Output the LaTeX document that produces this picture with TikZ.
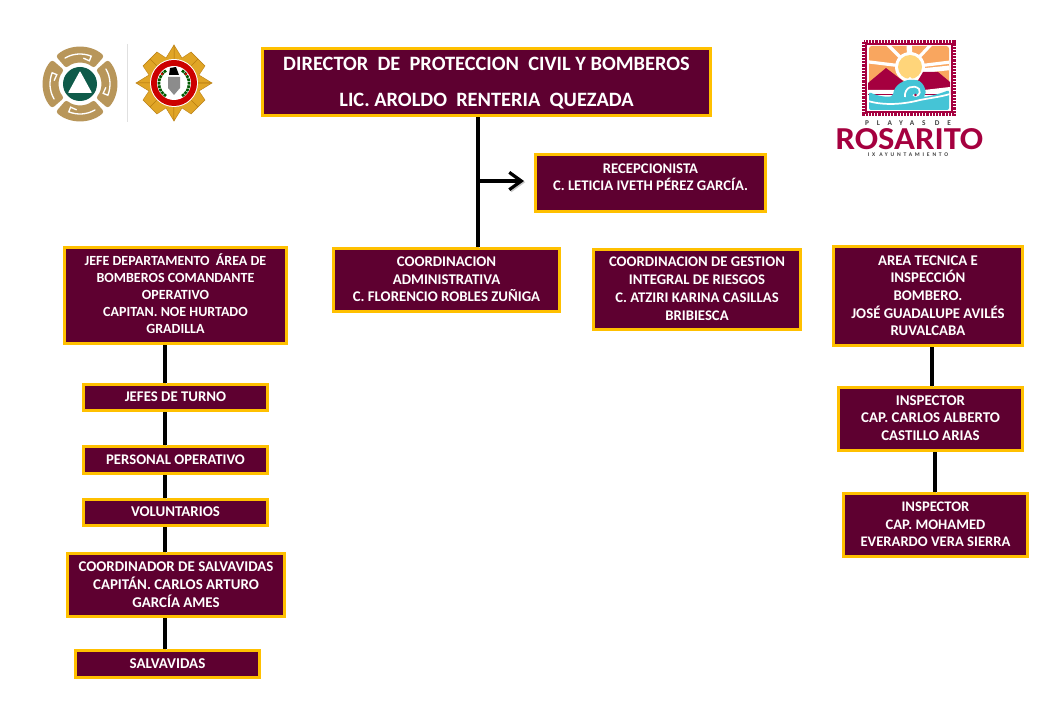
\documentclass[tikz,border=0pt]{standalone}
\usepackage{fontspec}
\usetikzlibrary{arrows.meta}
\setmainfont{Carlito}
\definecolor{wine}{HTML}{5E0030}
\definecolor{gold}{HTML}{FFC000}
\definecolor{tan1}{HTML}{B8965A}
\definecolor{green1}{HTML}{0F5B4A}
\definecolor{badge}{HTML}{E0A526}
\definecolor{badged}{HTML}{B87D12}
\definecolor{ros}{HTML}{A5003F}
\definecolor{sky}{HTML}{F9A65F}
\definecolor{sun}{HTML}{FFD57A}
\definecolor{sea}{HTML}{45C4D6}
\tikzset{x=0.75pt,y=-0.75pt,
 orgbox/.style={draw=gold,fill=wine,line width=2.4pt,text=white,inner sep=0pt,font=\bfseries},
 link/.style={line width=3pt,black,preaction={draw=black!22,transform canvas={xshift=.9pt,yshift=-.9pt}}},
 ringseg/.style={fill=tan1,draw=none},
 swirl/.style={draw=white,line width=1pt,line cap=round},
 ray/.style={draw=white,line width=2.4pt},
 logotext/.style={font=\bfseries,inner sep=0pt,anchor=center}}
% name, x1,y1,x2,y2, size(px), leading(px), raise(px), text
\newcommand{\orgb}[9]{%
 \pgfmathsetmacro{\cxx}{(#2+#4)/2}\pgfmathsetmacro{\cyy}{(#3+#5)/2}%
 \pgfmathsetmacro{\wdd}{(#4-#2-0.5)*0.75}\pgfmathsetmacro{\htt}{(#5-#3-0.5)*0.75}%
 \pgfmathsetmacro{\szz}{#6*0.75}\pgfmathsetmacro{\ldd}{#7*0.75}\pgfmathsetmacro{\rss}{#8*0.75}%
 \node[orgbox,minimum width=\wdd pt,minimum height=\htt pt] (#1) at (\cxx,\cyy)
 {\fontsize{\szz pt}{\ldd pt}\selectfont\smash{\raisebox{\rss pt}{\setlength\tabcolsep{0pt}\begin{tabular}[c]{c}#9\end{tabular}}}};}
\begin{document}
\begin{tikzpicture}
\useasboundingbox (0,0) rectangle (1040,720);
\fill[white] (0,0) rectangle (1040,720);
% boxes
\orgb{dir}{262}{48}{711}{116}{20.4}{36}{-4.5}{\bfseries DIRECTOR\ \ DE\ \ PROTECCION\ \ CIVIL Y BOMBEROS\\ \bfseries LIC.\ AROLDO\ \ RENTERIA\ \ QUEZADA}
\orgb{rec}{535}{154}{766}{212}{14.7}{17.5}{1}{\bfseries RECEPCIONISTA\\ \bfseries C. LETICIA IVETH PÉREZ GARCÍA.\\ }
\orgb{adm}{333}{248}{560}{312}{14.8}{17.5}{-4.5}{\bfseries COORDINACION\\ \bfseries ADMINISTRATIVA\\ \bfseries C. FLORENCIO ROBLES ZUÑIGA}
\orgb{ges}{593}{249}{801}{330}{14.7}{18}{-4.5}{\bfseries COORDINACION DE GESTION\\ \bfseries INTEGRAL DE RIESGOS\\ \bfseries C. ATZIRI KARINA CASILLAS\\ \bfseries BRIBIESCA}
\orgb{tec}{833}{246}{1023}{346}{14.8}{17.5}{-4.5}{\bfseries AREA TECNICA E\\ \bfseries INSPECCIÓN\\ \bfseries BOMBERO.\\ \bfseries JOSÉ GUADALUPE AVILÉS\\ \bfseries RUVALCABA}
\orgb{jef}{64}{247}{287}{344}{14}{17}{-4.5}{\bfseries JEFE DEPARTAMENTO\ \ ÁREA DE\\ \bfseries BOMBEROS COMANDANTE\\ \bfseries OPERATIVO\\ \bfseries CAPITAN.\ NOE HURTADO\\ \bfseries GRADILLA}
\orgb{tur}{83}{384}{268}{411}{14.8}{17}{-4}{\bfseries JEFES DE TURNO}
\orgb{per}{83}{446}{268}{474}{14.7}{17}{-4.5}{\bfseries PERSONAL OPERATIVO}
\orgb{vol}{83}{499}{268}{526}{14.9}{17}{-4}{\bfseries VOLUNTARIOS}
\orgb{coo}{67}{553}{285}{617}{14.9}{17.5}{-4.5}{\bfseries COORDINADOR DE SALVAVIDAS\\ \bfseries CAPITÁN. CARLOS ARTURO\\ \bfseries GARCÍA AMES}
\orgb{sal}{75}{650}{260}{678}{15}{17}{-4.5}{\bfseries SALVAVIDAS}
\orgb{ins}{838}{387}{1023}{451}{14.9}{17.5}{-4}{\bfseries INSPECTOR\\ \bfseries CAP. CARLOS ALBERTO\\ \bfseries CASTILLO ARIAS}
\orgb{inb}{843}{493}{1028}{557}{14.6}{17.5}{-4.5}{\bfseries INSPECTOR\\ \bfseries CAP. MOHAMED\\ \bfseries EVERARDO VERA SIERRA}
% connectors
\coordinate (mx) at (478,181);
\coordinate (ax) at (524,181);
\coordinate (lx) at (165,0);
\coordinate (rx) at (932,0);
\coordinate (ry) at (935,0);
\draw[link] (dir.south -| mx) -- (adm.north -| mx);
\draw[link,-{Straight Barb[length=9pt,width=13pt,line width=2.4pt]}] (mx) -- (ax);
\foreach \a/\b in {jef/tur,tur/per,per/vol,vol/coo,coo/sal}
 \draw[link] (\a.south -| lx) -- (\b.north -| lx);
\draw[link] (tec.south -| rx) -- (ins.north -| rx);
\draw[link] (ins.south -| ry) -- (inb.north -| ry);
% divider
\draw[black!12,line width=.5pt] (127,44) -- (127,122);
% civil protection logo
\begin{scope}[shift={(80,84)}]
 \foreach \c in {90,0,270,180}{
  \pgfmathsetmacro{\aa}{\c-41}\pgfmathsetmacro{\bb}{\c+41}
  \fill[ringseg,rounded corners=2pt] (\aa:37) arc[start angle=\aa,end angle=\bb,radius=37] -- (\bb:21) arc[start angle=\bb,end angle=\aa,radius=21] -- cycle;
  \pgfmathsetmacro{\sa}{\c-30}\pgfmathsetmacro{\sb}{\c+22}\pgfmathsetmacro{\sc}{\c+8}
  \draw[swirl] (\sa:30) arc[start angle=\sa,end angle=\sb,radius=30] -- (\sb:25) -- (\sc:26);
 }
 \fill[green1] (0,0) circle[radius=17];
 \fill[white,rounded corners=.5pt] (0,-13) -- (12,9) -- (-12,9) -- cycle;
\end{scope}
% fire badge
\begin{scope}[shift={(174,83)}]
 \foreach \r in {0,90,180,270}{
  \fill[badge,draw=badged,line width=.3pt,rotate=\r]
   (0,-38) -- (8,-25) -- (17,-31) -- (31,-17) -- (25,-8) -- (38,0) -- (0,0) -- cycle;
  \draw[badged,line width=.5pt,rotate=\r] (0,-36) -- (0,-24) (24,-24) -- (16,-16);
 }
 \fill[white] (0,0) circle[radius=24];
 \fill[red!80!black] (0,0) circle[radius=23];
 \fill[white] (0,0) circle[radius=17];
 \draw[green!35!black,line width=2pt,dash pattern=on 2pt off .6pt] (-8,13) arc[start angle=122,end angle=238,radius=15];
 \draw[green!35!black,line width=2pt,dash pattern=on 2pt off .6pt] (8,13) arc[start angle=58,end angle=-58,radius=15];
 \fill[black!45] (-6,-6) -- (6,-6) -- (6,5) -- (0,12) -- (-6,5) -- cycle;
 \fill[black] (-4,-15) -- (2,-16) -- (5,-8) -- (-5,-8) -- cycle;
 \fill[red!80!black] (-12,-9) circle[radius=1.3] (12,-9) circle[radius=1.3];
\end{scope}
% Rosarito logo
\fill[white] (863,41) rectangle (955,115);
\draw[ros,line width=2.4pt,dash pattern=on 1.6pt off .8pt] (864,42) rectangle (954,114);
\draw[ros,line width=1pt] (866,44) rectangle (952,112);
\fill[sky,rounded corners=2pt] (869,46) rectangle (949,88);
\begin{scope}
 \clip (869,46) rectangle (949,88);
 \foreach \a in {7,47,135,173}
  \draw[ray] (910,67) -- ++(-\a:70);
 \draw[ray,line width=4pt] (910,67) -- ++(-92:40);
 \draw[ray,line width=3.5pt] (910,72) -- ++(-6:60);
\end{scope}
\fill[white] (910,67) circle[radius=15];
\fill[sun] (910,67) circle[radius=12];
\fill[ros] (868,83) -- (886,68) -- (903,81) -- (905,88) -- (916,84) -- (923,72) -- (938,72) -- (950,82) -- (950,95) -- (868,95) -- cycle;
\fill[white] (868,90) -- (896,90) -- (910,77) -- (924,90) -- (950,87) -- (950,94) -- (868,94) -- cycle;
\fill[sea,rounded corners=1.5pt] (869,92) .. controls (880,97) and (888,97) .. (893,96) .. controls (894,85) and (904,79) .. (915,80) .. controls (923,81) and (928,92) .. (923,97) .. controls (932,96) and (942,93) .. (949,90) -- (949,110) -- (869,110) -- cycle;
\draw[white,line width=1.3pt] (868,101) .. controls (885,106) and (905,104) .. (920,100) .. controls (930,98) and (940,97) .. (950,94);
\draw[white,line width=1.3pt] (905,97) .. controls (904,87) and (914,84) .. (919,89) .. controls (922,94) and (916,98) .. (913,95);
\fill[ros] (915.5,95) circle[radius=1.4];
\node[logotext,text=black!75] (playas) at (908,123) {\fontsize{5.5}{5.5}\selectfont\addfontfeatures{LetterSpace=105}PLAYAS DE};
\node[logotext,text=ros] (rosa) at (909.5,139) {\fontsize{24}{24}\selectfont\addfontfeatures{FakeStretch=1.08}ROSARITO};
\node[logotext,text=black!75] (ayun) at (908,155) {\fontsize{4.2}{4.2}\selectfont\addfontfeatures{LetterSpace=50}IX AYUNTAMIENTO};
\end{tikzpicture}
\end{document}
